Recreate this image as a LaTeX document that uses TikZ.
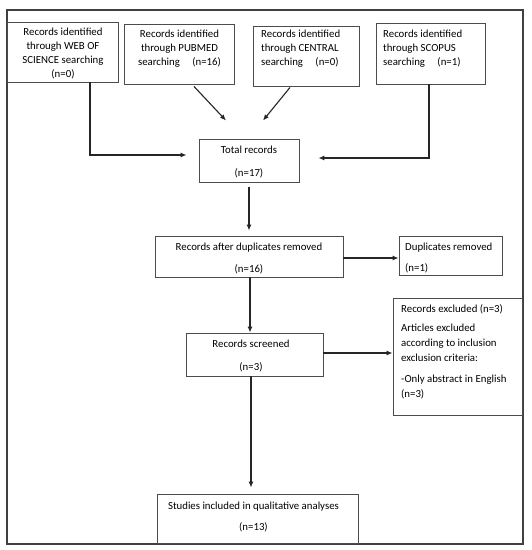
\documentclass[tikz,border=0pt]{standalone}
\usepackage{fontspec}
\setmainfont{Carlito}
\usetikzlibrary{arrows.meta,calc}
\begin{document}
\begin{tikzpicture}[x=1pt,y=-1pt,
  box/.style={draw=black!70, line width=0.9pt, inner sep=0pt, fill=none},
  txt/.style={inner sep=0pt, text=black, font=\fontsize{10.8}{14}\selectfont},
  arr/.style={draw=black!85, line width=1.1pt, -{Latex[length=6pt,width=5pt]}}]
\useasboundingbox (0,0) rectangle (532,550);
\fill[white] (0,0) rectangle (532,550);
% outer frame
\draw[black!75, line width=1.7pt] (7,10) rectangle (523,544);
% boxes
\node[box, minimum width=111, minimum height=60] (wos) at (62.5,52) {};
\node[box, minimum width=110, minimum height=60] (pubmed) at (179,54) {};
\node[box, minimum width=106, minimum height=60] (central) at (306,56) {};
\node[box, minimum width=109, minimum height=61] (scopus) at (430.5,53.5) {};
\node[box, minimum width=100, minimum height=43] (total) at (249,160.5) {};
\node[box, minimum width=188, minimum height=41] (after) at (249,256.5) {};
\node[box, minimum width=103, minimum height=39] (dup) at (450.5,255.5) {};
\node[box, minimum width=137, minimum height=43] (screened) at (254.5,354.5) {};
\node[box, minimum width=129, minimum height=117] (excl) at (457.5,356.5) {};
\node[box, minimum width=201, minimum height=49] (studies) at (257.5,518.5) {};
% texts
\node[txt, align=center] (woslbl) at (63,53.5) {Records identified\\through WEB OF\\SCIENCE searching\\(n=0)};
\node[txt, align=center] (publbl) at (179.5,48.5) {Records identified\\through PUBMED\\searching\hspace{10pt} (n=16)};
\node[txt, align=left, anchor=west] (cenlbl) at (261,48.5) {Records identified\\through CENTRAL\\searching\hspace{10pt} (n=0)};
\node[txt, align=left, anchor=west] (scolbl) at (383,48.5) {Records identified\\through SCOPUS\\searching\hspace{10pt} (n=1)};
\node[txt, align=center] (totlbl) at (249,161.5) {Total records\\[9pt](n=17)};
\node[txt, align=center] (aftlbl) at (249,258) {Records after duplicates removed\\[8pt](n=16)};
\node[txt, align=left, anchor=west] (duplbl) at (405,257.5) {Duplicates removed\\[7pt](n=1)};
\node[txt, align=center] (scrlbl) at (251,355.5) {Records screened\\[9pt](n=3)};
\node[txt, align=left, anchor=west, font=\fontsize{10.8}{15}\selectfont] (exclbl) at (401,351.5) {Records excluded (n=3)\\[4pt]Articles excluded\\according to inclusion\\exclusion criteria:\\[6pt]-Only abstract in English\\(n=3)};
\node[txt, align=center] (stulbl) at (253.5,516.5) {Studies included in qualitative analyses\\[7pt](n=13)};
% connectors
\draw[arr] ([xshift=27.5pt]wos.south) |- ([xshift=-12pt,yshift=5.5pt]total.west);
\draw[arr] ([xshift=15pt,yshift=-2pt]pubmed.south) -- ([xshift=-23pt,yshift=18pt]total.north);
\draw[arr] ([xshift=-16pt,yshift=-1pt]central.south) -- ([xshift=14pt,yshift=18pt]total.north);
\draw[arr] ([xshift=-1.5pt]scopus.south) |- ([xshift=19pt,yshift=2.5pt]total.east);
\draw[arr] ([yshift=-5pt]total.south) -- ([yshift=5pt]after.north);
\draw[arr] ([yshift=-1.5pt]after.east) -- ($(after.east -| dup.west)+(0,1.5)$);
\draw[arr] ([xshift=1pt]after.south) -- ($(after.south |- screened.north)+(1,0)$);
\draw[arr] ([yshift=1.5pt]screened.east) -- ($(screened.east -| excl.west)+(0,-1.5)$);
\draw[arr] ([xshift=-3.5pt]screened.south) -- ($(screened.south |- studies.north)+(-3.5,-6)$);
\end{tikzpicture}
\end{document}
